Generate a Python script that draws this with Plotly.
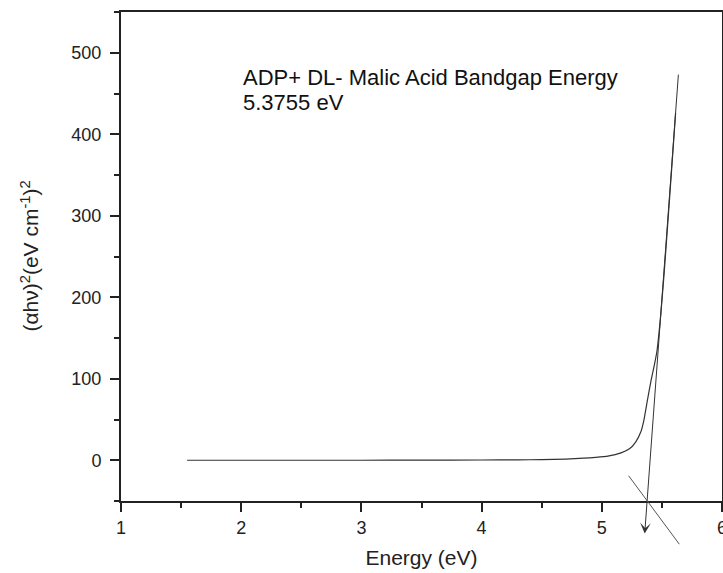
import plotly.graph_objects as go

# Absorption curve (αhν)^2 vs photon energy
energy = [1.55, 2.0, 2.5, 3.0, 3.5, 4.0, 4.3, 4.5, 4.7, 4.85, 4.95, 5.05, 5.16, 5.23,
          5.28, 5.325, 5.35, 5.38, 5.41, 5.44, 5.46, 5.49, 5.52, 5.55, 5.58, 5.614]
alpha_hv2 = [0, 0, 0, 0, 0.1, 0.3, 0.5, 0.8, 1.5, 2.5, 3.5, 5, 9, 14,
             22, 35, 49, 74, 98, 119, 135, 178, 232, 293, 355, 426]

# Linear extrapolation (tangent) to the energy axis
bandgap = 5.3755
tangent_top = [5.638, 475]
tangent_head = [5.357, -90]
# Short crossing mark through the intercept
cross_start = [5.214, -17.2]
cross_end = [5.645, -103]

title_lines = ["ADP+ DL- Malic Acid Bandgap Energy", "5.3755 eV"]
x_title = "Energy (eV)"
y_title = "(αhν)<sup>2</sup>(eV cm<sup>-1</sup>)<sup>2</sup>"

x_ticks = [1, 2, 3, 4, 5, 6]
y_ticks = [0, 100, 200, 300, 400, 500]

FONT = "Liberation Sans, Arial, sans-serif"
LINE = "#333333"
AXIS = "#222222"

fig = go.Figure()
fig.add_trace(go.Scatter(x=energy, y=alpha_hv2, mode="lines",
                         line=dict(color=LINE, width=1.2, shape="spline", smoothing=0.4),
                         showlegend=False, hoverinfo="skip"))

# tangent with arrow
fig.add_annotation(x=tangent_head[0], y=tangent_head[1], ax=tangent_top[0], ay=tangent_top[1],
                   xref="x", yref="y", axref="x", ayref="y", text="", showarrow=True,
                   arrowhead=3, arrowsize=1.8, arrowwidth=1, arrowcolor=LINE,
                   startstandoff=0, standoff=0)
# crossing line
fig.add_annotation(x=cross_end[0], y=cross_end[1], ax=cross_start[0], ay=cross_start[1],
                   xref="x", yref="y", axref="x", ayref="y", text="", showarrow=True,
                   arrowhead=0, arrowwidth=1, arrowcolor="#555555",
                   startstandoff=0, standoff=0)

# two-line label, one annotation per line for tight spacing
label_y = [0.866, 0.815]
for line_text, yy in zip(title_lines, label_y):
    fig.add_annotation(x=2.0, y=yy, xref="x", yref="paper", xanchor="left", yanchor="middle",
                       align="left", showarrow=False, text=line_text,
                       font=dict(family=FONT, size=22, color="#111111"))

# y-axis title placed as rotated annotation
fig.add_annotation(x=-0.153, y=0.5, xref="paper", yref="paper", xanchor="center",
                   yanchor="middle", textangle=-90, showarrow=False, text=y_title,
                   font=dict(family=FONT, size=21, color="#222222"))

axis_common = dict(showgrid=False, zeroline=False, showline=True, linewidth=2,
                   linecolor=AXIS, mirror=True, ticks="outside", ticklen=9,
                   tickwidth=1.5, tickcolor=AXIS, ticklabeloverflow="allow",
                   tickfont=dict(family=FONT, size=18, color="#222222"))

fig.update_xaxes(range=[1, 6], tickvals=x_ticks, ticktext=[str(v) for v in x_ticks],
                 minor=dict(dtick=0.5, tick0=1, ticks="outside", ticklen=5, tickwidth=1.5,
                            tickcolor=AXIS),
                 title=dict(text=x_title, font=dict(family=FONT, size=21, color="#222222"),
                            standoff=14),
                 **axis_common)
fig.update_yaxes(range=[-50, 550], tickvals=y_ticks, ticktext=[str(v) for v in y_ticks],
                 minor=dict(dtick=50, tick0=0, ticks="outside", ticklen=5, tickwidth=1.5,
                            tickcolor=AXIS),
                 ticklabelstandoff=5,
                 **axis_common)

fig.update_layout(width=723, height=573, margin=dict(l=121, r=1, t=12, b=72, autoexpand=False),
                  plot_bgcolor="white", paper_bgcolor="white")

fig.write_html("out.html", config={"displayModeBar": False},
               post_script="document.body.style.margin='0';document.body.style.padding='0';")
